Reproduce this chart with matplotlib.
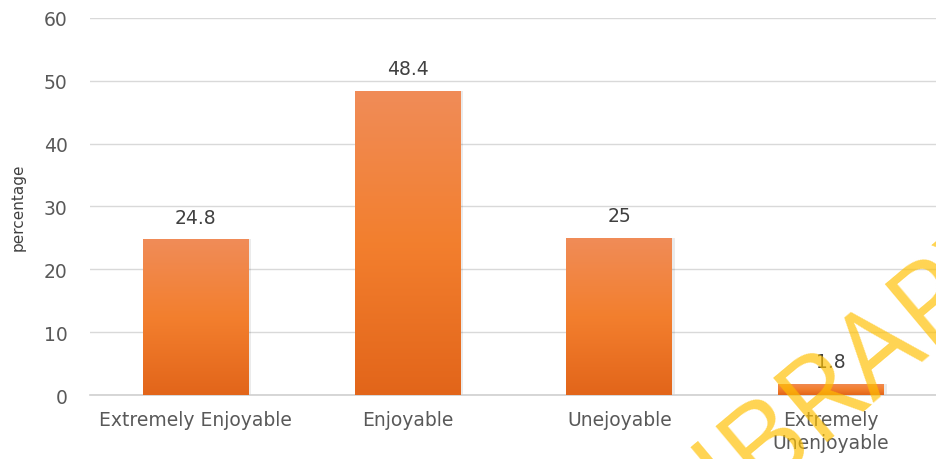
import matplotlib.pyplot as plt
import numpy as np
from matplotlib.colors import LinearSegmentedColormap

categories = ["Extremely Enjoyable", "Enjoyable", "Unejoyable", "Extremely\nUnenjoyable"]
values = [24.8, 48.4, 25, 1.8]
value_labels = ["24.8", "48.4", "25", "1.8"]
yticks = [0, 10, 20, 30, 40, 50, 60]

plt.rcParams['font.family'] = ['DejaVu Sans']

fig = plt.figure(figsize=(9.36, 4.6), dpi=100)
ax = fig.add_axes([0.096, 0.139, 0.905, 0.82])

x = np.arange(len(categories))
bars = ax.bar(x, values, width=0.5, color="none", zorder=3)

# vertical gradient, lighter on top
cmap = LinearSegmentedColormap.from_list("org", ["#e2651a", "#f37f2e", "#f08c58"])
grad = np.linspace(0, 1, 256).reshape(-1, 1)
for b in bars:
    x0, y0 = b.get_x(), b.get_y()
    w, h = b.get_width(), b.get_height()
    # soft shadow
    ax.bar(x0 + w / 2 + 0.008, h, width=w + 0.01, color="#000000", alpha=0.08, zorder=2)
    im = ax.imshow(grad, cmap=cmap, origin="lower", aspect="auto",
                   extent=[x0, x0 + w, y0, y0 + h], zorder=3)
    im.set_clip_path(b)

for xi, v, lab in zip(x, values, value_labels):
    ax.text(xi, v + 2.0, lab, ha="center", va="bottom", fontsize=13.5, color="#404040", zorder=4)

ax.set_xlim(-0.5, 3.5)
ax.set_ylim(0, 60)
ax.set_yticks(yticks)
ax.set_xticks(x)
ax.set_xticklabels(categories, fontsize=13.5, color="#595959", linespacing=1.25)
ax.tick_params(axis="y", labelsize=13.5, labelcolor="#595959", length=0, pad=16)
ax.tick_params(axis="x", length=0, pad=11)
ax.grid(axis="y", color="#d9d9d9", linewidth=1, zorder=0)
for s in ["top", "right", "left"]:
    ax.spines[s].set_visible(False)
ax.spines["bottom"].set_color("#d0d0d0")
ax.spines["bottom"].set_linewidth(1.2)
ax.set_ylabel("percentage", fontsize=11, color="#404040")
ax.yaxis.set_label_coords(-0.076, 0.5)

# watermark
fig.text(0.898, 0.17, "LIBRARY", fontsize=84, family=["Liberation Sans Narrow", "Open Sans"],
         color="#ffc000", alpha=0.68, rotation=40, ha="center", va="center", zorder=10)

fig.savefig("out.png", dpi=100)
